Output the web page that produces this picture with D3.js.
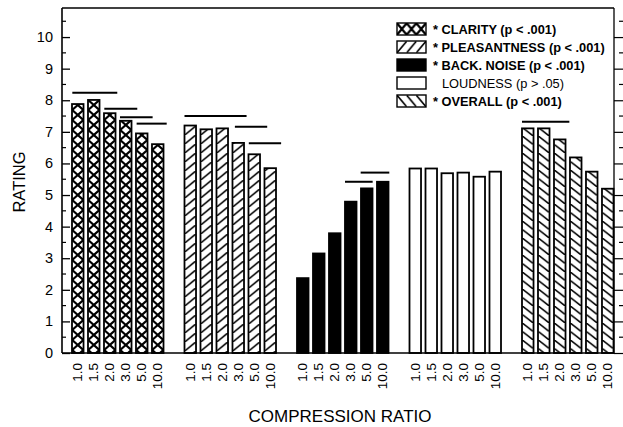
<!DOCTYPE html>
<html>
<head>
<meta charset="utf-8">
<script src="https://cdn.jsdelivr.net/npm/d3@7"></script>
<style>
  html, body { margin: 0; padding: 0; background: #fff; }
  svg { display: block; font-family: Arial, "Liberation Sans", sans-serif; }
</style>
</head>
<body>
<svg id="chart" width="623" height="427"></svg>
<script>
// Compression ratios (bars inside each group)
const ratios = ["1.0", "1.5", "2.0", "3.0", "5.0", "10.0"];

// Rating scales (groups)
const scales = ["clarity", "pleasantness", "backNoise", "loudness", "overall"];

// Mean ratings per compression ratio
const clarity      = [7.88, 8.01, 7.59, 7.35, 6.95, 6.61];
const pleasantness = [7.20, 7.08, 7.11, 6.65, 6.29, 5.85];
const backNoise    = [2.37, 3.15, 3.79, 4.79, 5.21, 5.42];
const loudness     = [5.84, 5.84, 5.69, 5.71, 5.58, 5.74];
const overall      = [7.11, 7.11, 6.76, 6.19, 5.74, 5.20];

// Legend entries
const legendLabels = [
  "* CLARITY (p < .001)",
  "* PLEASANTNESS (p < .001)",
  "* BACK. NOISE (p < .001)",
  "LOUDNESS (p > .05)",
  "* OVERALL (p < .001)"
];
const legendBold = [true, true, true, false, true];

// Homogeneous subsets: [group, from slot, to slot, rating level]
const subsetLines = [
  ["clarity", 0.02, 2.83, 8.24],
  ["clarity", 2.02, 4.08, 7.73],
  ["clarity", 3.00, 5.04, 7.46],
  ["clarity", 4.04, 5.92, 7.26],
  ["pleasantness", 0.00, 3.88, 7.50],
  ["pleasantness", 3.15, 5.17, 7.16],
  ["pleasantness", 4.02, 6.04, 6.64],
  ["backNoise", 3.00, 4.73, 5.42],
  ["backNoise", 3.98, 5.77, 5.71],
  ["overall", 0.00, 2.96, 7.32]
];

// Y axis ticks
const yTicks = [0, 1, 2, 3, 4, 5, 6, 7, 8, 9, 10];

const seriesValues = { clarity, pleasantness, backNoise, loudness, overall };
const fills = {
  clarity: "cross", pleasantness: "fwd", backNoise: "solid",
  loudness: "empty", overall: "back"
};

const svg = d3.select("#chart");
const plot = { left: 62, right: 614, top: 8, bottom: 353 };

const y = d3.scaleLinear().domain([0, 10.92]).range([plot.bottom, plot.top]);

const xGroup = d3.scaleBand().domain(scales).range([72, 72 + 5 * 112.5]).padding(0);
const xBar = d3.scaleBand().domain(ratios).range([0, 91.5]).paddingInner(0.28).paddingOuter(0);
const slot = d3.scaleLinear().domain([0, 6]).range([0, 6 * xBar.step()]);
const bw = xBar.bandwidth();

// Fill patterns; bar patterns live in each group's local coordinates,
// so a tile of one bar step lines up with every bar of the group
const defs = svg.append("defs");
function makePattern(id, kind, x0, y0, w, h, cellW) {
  const p = defs.append("pattern")
    .attr("id", id)
    .attr("patternUnits", "userSpaceOnUse")
    .attr("x", x0).attr("y", y0)
    .attr("width", w).attr("height", h);
  const line = (x1, y1, x2, y2, sw) => p.append("line")
    .attr("x1", x1).attr("y1", y1).attr("x2", x2).attr("y2", y2)
    .attr("stroke", "#000").attr("stroke-width", sw);
  if (kind === "cross") {
    line(-1, -1, cellW + 1, h + 1, 2.2);
    line(cellW + 1, -1, -1, h + 1, 2.2);
  } else if (kind === "fwd") {
    line(-1, h + 1, cellW + 1, -1, 1.6);
  } else if (kind === "back") {
    line(-1, -1, cellW + 1, h + 1, 1.6);
  }
  return "url(#" + id + ")";
}

const patternH = { cross: 10, fwd: 9, back: 8.5 };
function fillFor(group) {
  const kind = fills[group];
  if (kind === "solid") return "#000";
  if (kind === "empty") return "#fff";
  return makePattern("pat-" + group, kind, 0, 0, xBar.step(), patternH[kind], bw);
}

// Bars
scales.forEach(group => {
  const fill = fillFor(group);
  const g = svg.append("g").attr("transform", `translate(${xGroup(group)},0)`);
  g.selectAll("rect")
    .data(ratios.map((r, i) => ({ r, v: seriesValues[group][i] })))
    .join("rect")
    .attr("x", d => xBar(d.r))
    .attr("y", d => y(d.v))
    .attr("width", bw)
    .attr("height", d => y(0) - y(d.v))
    .attr("fill", fill)
    .attr("stroke", "#000")
    .attr("stroke-width", 1.8);

  // Rotated ratio labels below each bar
  g.selectAll("text.ratio")
    .data(ratios)
    .join("text")
    .attr("class", "ratio")
    .attr("transform", d => `translate(${xBar(d) + bw / 2 + 4.7},363) rotate(-90)`)
    .attr("text-anchor", "end")
    .attr("font-size", 13.5)
    .text(d => d);
});

// Subset lines above the bars
svg.append("g").selectAll("line")
  .data(subsetLines)
  .join("line")
  .attr("x1", d => xGroup(d[0]) + slot(d[1]))
  .attr("x2", d => xGroup(d[0]) + slot(d[2]))
  .attr("y1", d => y(d[3]))
  .attr("y2", d => y(d[3]))
  .attr("stroke", "#000")
  .attr("stroke-width", 2);

// Frame and axes
const frame = svg.append("g").attr("stroke", "#000").attr("fill", "none");
frame.append("line").attr("x1", plot.left).attr("x2", plot.right)
  .attr("y1", plot.top).attr("y2", plot.top).attr("stroke-width", 1.3);
frame.append("line").attr("x1", plot.left).attr("x2", plot.right)
  .attr("y1", plot.bottom).attr("y2", plot.bottom).attr("stroke-width", 1.6);

// Left axis: ticks inside, minor ticks at the half points
const leftAxis = d3.axisRight(y).tickValues(yTicks).tickSize(8).tickFormat("");
const gl = svg.append("g").attr("transform", `translate(${plot.left},0)`).call(leftAxis);
gl.select(".domain").attr("d", `M0,${plot.top}V${plot.bottom}`).attr("stroke-width", 1.6);
gl.selectAll(".tick line").attr("stroke-width", 1.3);
const minor = d3.range(0.5, 10.6, 1);
gl.append("g").selectAll("line").data(minor).join("line")
  .attr("x1", 0).attr("x2", 4).attr("y1", d => y(d)).attr("y2", d => y(d))
  .attr("stroke", "#000").attr("stroke-width", 1.2);

svg.append("g").selectAll("text").data(yTicks).join("text")
  .attr("x", 53).attr("y", d => y(d) + 5)
  .attr("text-anchor", "end").attr("font-size", 14.5)
  .text(d => d);

// Right axis: ticks outside
const rightAxis = d3.axisRight(y).tickValues(yTicks).tickSize(9).tickFormat("");
const gr = svg.append("g").attr("transform", `translate(${plot.right},0)`).call(rightAxis);
gr.select(".domain").attr("d", `M0,${plot.top}V${plot.bottom}`).attr("stroke-width", 1.3);
gr.selectAll(".tick line").attr("stroke-width", 1.2);
gr.append("g").selectAll("line").data(minor).join("line")
  .attr("x1", 5).attr("x2", 9).attr("y1", d => y(d)).attr("y2", d => y(d))
  .attr("stroke", "#000").attr("stroke-width", 1.2);

// Axis titles
svg.append("text")
  .attr("x", 340).attr("y", 422)
  .attr("text-anchor", "middle").attr("font-size", 17)
  .text("COMPRESSION RATIO");
svg.append("text")
  .attr("transform", "translate(25,182) rotate(-90)")
  .attr("text-anchor", "middle").attr("font-size", 16.5)
  .text("RATING");

// Legend
const legend = svg.append("g");
const swX = 397, swW = 29, swH = 12;
const rowY = d3.scalePoint().domain(scales).range([23, 95]);
scales.forEach((group, i) => {
  const kind = fills[group];
  const yy = rowY(group);
  let fill;
  if (kind === "solid") fill = "#000";
  else if (kind === "empty") fill = "#fff";
  else fill = makePattern("leg-" + group, kind, swX, yy, swW / 3, swH, swW / 3);
  legend.append("rect")
    .attr("x", swX).attr("y", yy).attr("width", swW).attr("height", swH)
    .attr("fill", fill).attr("stroke", "#000").attr("stroke-width", 1.4);
  legend.append("text")
    .attr("x", legendBold[i] ? 433 : 442)
    .attr("y", yy + swH / 2 + 4.8)
    .attr("font-size", 12.8)
    .attr("font-weight", legendBold[i] ? "bold" : "normal")
    .text(legendLabels[i]);
});
</script>
</body>
</html>
